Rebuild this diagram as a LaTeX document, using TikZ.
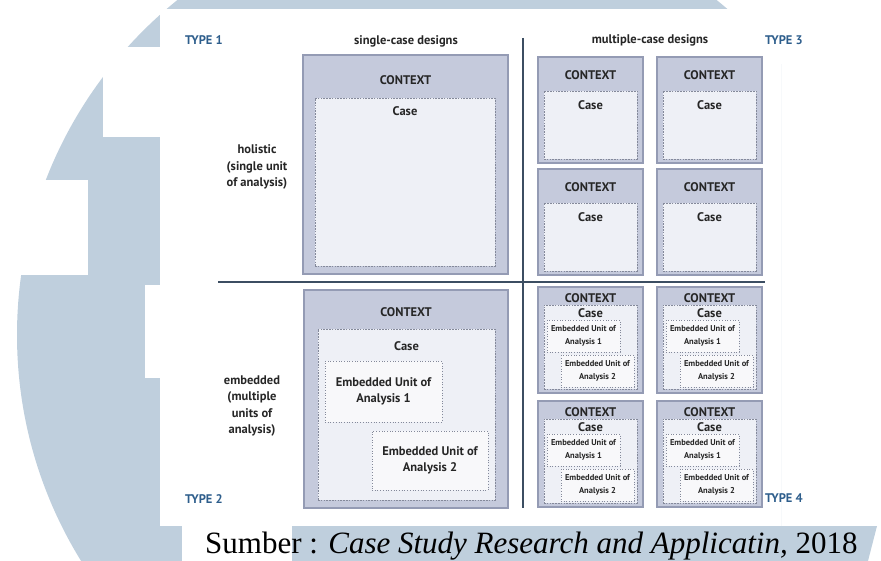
\documentclass[tikz,border=0pt]{standalone}
\usepackage{fontspec}
\setmainfont{Liberation Serif}
\setsansfont{PT Sans}
\usetikzlibrary{positioning}
\definecolor{wmblue}{RGB}{191,207,221}
\definecolor{ctxfill}{RGB}{197,202,220}
\definecolor{ctxline}{RGB}{148,155,180}
\definecolor{casefill}{RGB}{238,240,246}
\definecolor{caseline}{RGB}{132,137,154}
\definecolor{unitfill}{RGB}{248,248,250}
\definecolor{typeblue}{RGB}{46,94,140}
\definecolor{divline}{RGB}{60,78,98}
\newcommand*{\lblfont}{\sffamily\bfseries\fontsize{12.5}{16.5}\selectfont}
\newcommand*{\smlfont}{\sffamily\bfseries\fontsize{8.5}{12.5}\selectfont}
\tikzstyle{every picture}+=[
  ctxbox/.style={fill=ctxfill,draw=ctxline,line width=1.2pt,shape=rectangle,anchor=north west,inner sep=0pt,outer sep=0pt},
  casebox/.style={fill=casefill,draw=caseline,line width=0.8pt,dash pattern=on 1.6pt off 1.2pt,shape=rectangle,anchor=north west,inner sep=0pt,outer sep=0pt},
  unitbox/.style={fill=unitfill,draw=caseline,line width=0.7pt,dotted,shape=rectangle,anchor=north west,inner sep=0pt,outer sep=0pt,align=center,text=black!85},
  lbl/.style={font=\lblfont,text=black!85,inner sep=0pt},
  typelbl/.style={font=\lblfont,text=typeblue,inner sep=0pt,anchor=west},
  divider/.style={draw=divline,line width=1.3pt}
]
\newcommand*{\holicell}[3]{%
  \node[style=ctxbox,minimum width=105pt,minimum height=106pt] (#1) at (#2,#3) {};
  \node[style=lbl] (#1ctx) at ([yshift=-18pt]#1.north) {CONTEXT};
  \node[style=casebox,minimum width=93pt,minimum height=68pt] (#1cs) at ([shift={(6pt,-34pt)}]#1.north west) {};
  \node[style=lbl] (#1case) at ([yshift=-14pt]#1cs.north) {Case};
}
\newcommand*{\embcell}[3]{%
  \node[style=ctxbox,minimum width=105pt,minimum height=106pt] (#1) at (#2,#3) {};
  \node[style=lbl] (#1ctx) at ([yshift=-11pt]#1.north) {CONTEXT};
  \node[style=casebox,minimum width=93pt,minimum height=84pt] (#1cs) at ([shift={(6pt,-18pt)}]#1.north west) {};
  \node[style=lbl] (#1case) at ([yshift=-8pt]#1cs.north) {Case};
  \node[style=unitbox,font=\smlfont,minimum width=73pt,minimum height=32pt] (#1ua) at ([shift={(9pt,-33pt)}]#1.north west) {Embedded Unit of\\Analysis 1};
  \node[style=unitbox,font=\smlfont,minimum width=73pt,minimum height=32pt] (#1ub) at ([shift={(23pt,-68pt)}]#1.north west) {Embedded Unit of\\Analysis 2};
}

\begin{document}
\begin{tikzpicture}[x=1pt,y=-1pt]
      \useasboundingbox (0,0) rectangle (881,561);
      % watermark
      \begin{scope}
        \clip (0,0) rectangle (781,561);
        \fill[wmblue] (447,335) circle (430pt);
      \end{scope}
      \fill[white] (103,47) rectangle (161,137);
      \fill[white] (0,180) rectangle (88,275);
      \fill[white] (145,285) rectangle (161,378);
      \fill[white] (182,526) rectangle (292,561);
      \fill[wmblue] (292,526) -- (877,526) -- (868,561) -- (292,561) -- cycle;
      \fill[white] (160,9) rectangle (781,526);
      %
      \coordinate (vtop) at (523,38);
      \coordinate (vbot) at (523,508);
      \coordinate (hleft) at (218,282);
      \coordinate (hright) at (765,282);
      \path[style=divider] (vtop) -- (vbot);
      \path[style=divider] (hleft) -- (hright);
      %
      \node[style=typelbl] (t1) at (185,40) {TYPE 1};
      \node[style=typelbl] (t2) at (185,499) {TYPE 2};
      \node[style=typelbl] (t3) at (765,40) {TYPE 3};
      \node[style=typelbl] (t4) at (765,498) {TYPE 4};
      \node[style=lbl] (hsingle) at (406,41) {single-case designs};
      \node[style=lbl] (hmulti) at (650,40) {multiple-case designs};
      \node[style=lbl,align=center] (rholi) at (257,167) {holistic\\(single unit\\of analysis)};
      \node[style=lbl,align=center] (remb) at (252,406) {embedded\\(multiple\\units of\\analysis)};
      %
      \node[style=ctxbox,minimum width=205pt,minimum height=219pt] (sh) at (303,55) {};
      \node[style=lbl] (shctx) at ([yshift=-25pt]sh.north) {CONTEXT};
      \node[style=casebox,minimum width=180pt,minimum height=168pt] (shcs) at ([shift={(12pt,-43pt)}]sh.north west) {};
      \node[style=lbl] (shcase) at ([yshift=-13pt]shcs.north) {Case};
      %
      \node[style=ctxbox,minimum width=204pt,minimum height=218pt] (se) at (304,290) {};
      \node[style=lbl] (sectx) at ([yshift=-22pt]se.north) {CONTEXT};
      \node[style=casebox,minimum width=177pt,minimum height=171pt] (secs) at ([shift={(14pt,-39pt)}]se.north west) {};
      \node[style=lbl] (secase) at ([yshift=-17pt]secs.north) {Case};
      \node[style=unitbox,font=\lblfont,minimum width=117pt,minimum height=61pt] (seua) at ([shift={(21pt,-71pt)}]se.north west) {Embedded Unit of\\Analysis 1};
      \node[style=unitbox,font=\lblfont,minimum width=116pt,minimum height=59pt] (seub) at ([shift={(68pt,-141pt)}]se.north west) {Embedded Unit of\\Analysis 2};
      %
      \holicell{mha}{538}{57}
      \holicell{mhb}{657}{57}
      \holicell{mhc}{538}{169}
      \holicell{mhd}{657}{169}
      %
      \embcell{mea}{538}{287}
      \embcell{meb}{657}{287}
      \embcell{mec}{538}{401}
      \embcell{med}{657}{401}
      %
      \node[anchor=base west,inner sep=0pt,font=\fontsize{31}{33}\selectfont] (src) at (205,553) {Sumber : \textit{Case Study Research and Applicatin,} 2018};
      %
\end{tikzpicture}
\end{document}
